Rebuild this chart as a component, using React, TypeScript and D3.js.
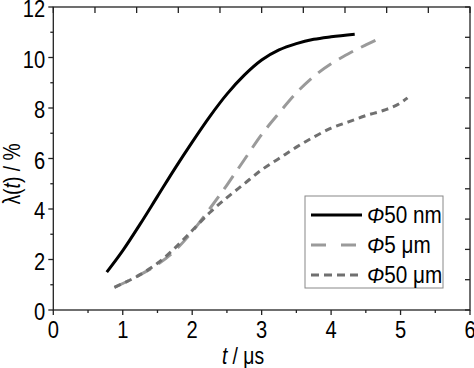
import React, { useRef, useEffect } from 'react';
import * as d3 from 'd3';

// curve data (t in µs, lambda in %)
const nm50T = [0.77, 1.0, 1.25, 1.5, 1.75, 2.0, 2.25, 2.5, 2.75, 3.0, 3.25, 3.5, 3.75, 4.0, 4.34];
const nm50V = [1.5, 2.35, 3.4, 4.5, 5.6, 6.65, 7.65, 8.55, 9.3, 9.9, 10.3, 10.55, 10.72, 10.82, 10.92];

const um5T = [0.88, 1.0, 1.25, 1.5, 1.75, 2.0, 2.25, 2.5, 2.75, 3.0, 3.25, 3.5, 3.75, 4.0, 4.25, 4.5, 4.69];
const um5V = [0.9, 1.05, 1.4, 1.8, 2.35, 3.1, 4.0, 4.95, 5.95, 6.95, 7.8, 8.6, 9.25, 9.75, 10.15, 10.5, 10.75];

const um50T = [0.88, 1.0, 1.25, 1.5, 1.75, 2.0, 2.25, 2.5, 2.75, 3.0, 3.25, 3.5, 3.75, 4.0, 4.25, 4.5, 4.75, 5.0, 5.1];
const um50V = [0.9, 1.05, 1.4, 1.85, 2.45, 3.15, 3.85, 4.45, 5.0, 5.55, 6.0, 6.45, 6.85, 7.2, 7.45, 7.7, 7.9, 8.2, 8.4];

const xTicks = [0, 1, 2, 3, 4, 5, 6];
const yTicks = [0, 2, 4, 6, 8, 10, 12];

const legendNames = ['50 nm', '5 \u03bcm', '50 \u03bcm'];

const FONT = '"Liberation Sans", Arial, sans-serif';
const SQUEEZE = 0.84; // the original uses a narrow sans face

const Chart = () => {
  const ref = useRef(null);

  useEffect(() => {
    const width = 474;
    const height = 368;
    const svg = d3.select(ref.current);
    svg.selectAll('*').remove();
    svg.attr('width', width).attr('height', height);

    const x = d3.scaleLinear().domain([0, 6]).range([53.3, 470]);
    const y = d3.scaleLinear().domain([0, 12]).range([310, 7]);

    const series = [
      { t: nm50T, v: nm50V, color: '#000', dash: null, lgDash: null },
      { t: um5T, v: um5V, color: '#9a9a9a', dash: '16,9', lgDash: '15,15' },
      { t: um50T, v: um50V, color: '#707070', dash: '7,5', lgDash: '8,5' },
    ];

    const line = d3.line()
      .x(d => x(d[0]))
      .y(d => y(d[1]))
      .curve(d3.curveMonotoneX);

    series.forEach(s => {
      const pts = s.t.map((t, i) => [t, s.v[i]]);
      svg.append('path')
        .attr('d', line(pts))
        .attr('fill', 'none')
        .attr('stroke', s.color)
        .attr('stroke-width', 3)
        .attr('stroke-dasharray', s.dash);
    });

    // axes: bottom and left outward, top and right mirrored inward
    const g = svg.append('g').attr('fill', 'none').attr('stroke', '#222').attr('stroke-width', 1.3);
    g.append('rect')
      .attr('x', x(0)).attr('y', y(12))
      .attr('width', x(6) - x(0)).attr('height', y(0) - y(12));

    d3.range(0, 6.01, 0.5).forEach(t => {
      const len = Number.isInteger(t) ? 5 : 3;
      g.append('line').attr('x1', x(t)).attr('x2', x(t)).attr('y1', y(0)).attr('y2', y(0) + len);
    });
    d3.range(0, 12.01, 1).forEach(v => {
      const len = v % 2 === 0 ? 5 : 3;
      g.append('line').attr('y1', y(v)).attr('y2', y(v)).attr('x1', x(0)).attr('x2', x(0) - len);
    });
    d3.range(0, 6.01, 0.6).forEach(t => {
      g.append('line').attr('x1', x(t)).attr('x2', x(t)).attr('y1', y(12)).attr('y2', y(12) + 6);
    });
    d3.range(0, 12.01, 1.2).forEach(v => {
      g.append('line').attr('y1', y(v)).attr('y2', y(v)).attr('x1', x(6)).attr('x2', x(6) - 5);
    });

    svg.append('g').selectAll('text').data(xTicks).join('text')
      .attr('transform', d => `translate(${x(d)},${y(0) + 28}) scale(${SQUEEZE},1)`)
      .attr('text-anchor', 'middle')
      .style('font-family', FONT)
      .style('font-size', '24px')
      .text(d => d);

    svg.append('g').selectAll('text').data(yTicks).join('text')
      .attr('transform', d => `translate(${x(0) - 8},${y(d) + 10}) scale(${SQUEEZE},1)`)
      .attr('text-anchor', 'end')
      .style('font-family', FONT)
      .style('font-size', '24px')
      .text(d => d);

    // axis titles
    const xt = svg.append('text')
      .attr('transform', `translate(243,364) scale(${SQUEEZE},1)`)
      .attr('text-anchor', 'middle')
      .style('font-family', FONT)
      .style('font-size', '23px');
    xt.append('tspan').style('font-style', 'italic').text('t');
    xt.append('tspan').text(' / \u03bcs');

    const yt = svg.append('text')
      .attr('transform', `translate(20,174) rotate(-90) scale(${SQUEEZE},1)`)
      .attr('text-anchor', 'middle')
      .style('font-family', FONT)
      .style('font-size', '23px');
    yt.append('tspan').text('\u03bb(');
    yt.append('tspan').style('font-style', 'italic').text('t');
    yt.append('tspan').text(') / %');

    // legend
    svg.append('rect')
      .attr('x', 305).attr('y', 196)
      .attr('width', 138).attr('height', 92)
      .attr('fill', '#fff')
      .attr('stroke', '#888')
      .attr('stroke-width', 1);

    series.forEach((s, i) => {
      const ly = 215 + i * 30;
      svg.append('line')
        .attr('x1', 311).attr('x2', 362)
        .attr('y1', ly).attr('y2', ly)
        .attr('stroke', s.color)
        .attr('stroke-width', 3)
        .attr('stroke-dasharray', s.lgDash);
      const lt = svg.append('text')
        .attr('transform', `translate(367,${ly + 8}) scale(0.9,1)`)
        .style('font-family', FONT)
        .style('font-size', '23px');
      lt.append('tspan').style('font-style', 'italic').text('\u03a6');
      lt.append('tspan').text(legendNames[i]);
    });
  }, []);

  return <svg ref={ref}></svg>;
};

export default function App() {
  return (
    <div style={{ position: 'absolute', left: 0, top: 0, background: '#fff' }}>
      <Chart />
    </div>
  );
}
